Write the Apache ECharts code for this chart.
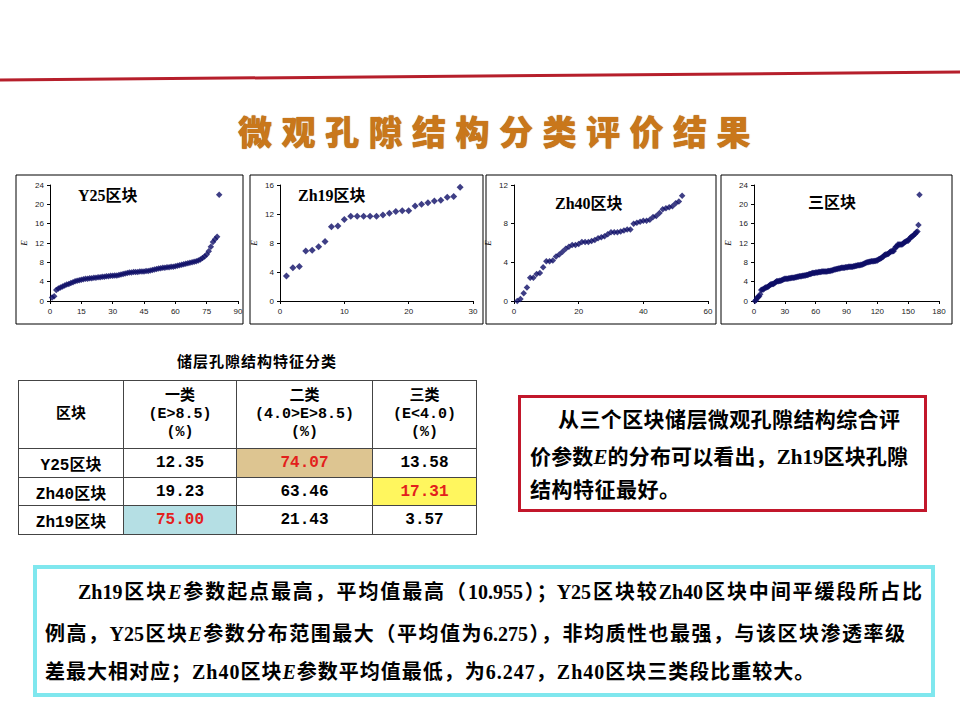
<!DOCTYPE html>
<html lang="zh-CN">
<head>
<meta charset="utf-8">
<script src="https://cdn.jsdelivr.net/npm/echarts@6/dist/echarts.min.js"></script>
<style>
body{margin:0;background:#fff;}
#page{position:relative;width:960px;height:720px;overflow:hidden;background:#fff;}
#chart{position:absolute;left:0;top:0;width:960px;height:720px;}
.txt{position:absolute;font-family:"Liberation Serif","Noto Sans CJK SC",serif;font-weight:bold;color:#000;white-space:nowrap;}
.jus{text-align:justify;text-align-last:justify;}
.txt i{font-style:italic;font-family:"Liberation Serif",serif;}
#title{position:absolute;left:238px;top:112px;font-family:"Noto Sans CJK SC";font-weight:900;font-size:34px;line-height:38px;letter-spacing:9.5px;color:#c9771b;text-shadow:0 0 1px #9a560c;white-space:nowrap;}
#tbTitle{position:absolute;left:177px;top:352px;font-family:"Noto Sans CJK SC";font-weight:bold;font-size:15px;line-height:18px;letter-spacing:1px;white-space:nowrap;}
#tb{position:absolute;left:18px;top:380px;border-collapse:collapse;font-family:"Liberation Mono","Noto Sans CJK SC",monospace;font-weight:bold;color:#000;}
#tb td{border:1px solid #444;text-align:center;padding:0;font-size:16px;}
#tb tr.hd td{font-size:15px;line-height:18px;}
#tb .red{color:#e3201c;}
#redBox{position:absolute;left:518px;top:395px;width:409px;height:117px;box-sizing:border-box;border:3px solid #c2172b;}
#cyanBox{position:absolute;left:33px;top:565px;width:902px;height:132px;box-sizing:border-box;border:4px solid #7fe7ee;}
</style>
</head>
<body>
<div id="page">
  <div id="chart"></div>
  <div id="title">微观孔隙结构分类评价结果</div>
  <div id="tbTitle">储层孔隙结构特征分类</div>
  <table id="tb"></table>
  <div id="redBox"></div>
  <div class="txt jus" style="left:558px;top:409px;width:342px;font-size:21px;line-height:22px;">从三个区块储层微观孔隙结构综合评</div>
  <div class="txt jus" style="left:530px;top:446px;width:378px;font-size:21px;line-height:22px;">价参数<i>E</i>的分布可以看出，Zh19区块孔隙</div>
  <div class="txt" style="left:530px;top:479px;font-size:21px;line-height:22px;letter-spacing:0.5px;">结构特征最好。</div>
  <div id="cyanBox"></div>
  <div class="txt jus" style="left:78px;top:581px;width:844px;font-size:20px;line-height:22px;">Zh19区块<i>E</i>参数起点最高，平均值最高（10.955）；Y25区块较Zh40区块中间平缓段所占比</div>
  <div class="txt jus" style="left:45px;top:623px;width:860px;font-size:20px;line-height:22px;">例高，Y25区块<i>E</i>参数分布范围最大（平均值为6.275），非均质性也最强，与该区块渗透率级</div>
  <div class="txt" style="left:45px;top:661px;font-size:20px;line-height:22px;letter-spacing:1px;">差最大相对应；Zh40区块<i>E</i>参数平均值最低，为6.247，Zh40区块三类段比重较大。</div>
</div>
<script>
// E 参数 (按大小排序, 横轴为样品序号)
let y25E = [
  0.7, 1.0, 2.3, 2.6, 2.8, 3.0, 3.2, 3.4, 3.5, 3.7, 3.9,
  4.1, 4.2, 4.3, 4.4, 4.5, 4.6, 4.6, 4.7, 4.7, 4.8,
  4.8, 4.9, 4.9, 5.0, 5.0, 5.1, 5.1, 5.2, 5.2, 5.3,
  5.3, 5.4, 5.5, 5.6, 5.7, 5.8, 5.9, 5.9, 6.0, 6.0,
  6.0, 6.1, 6.1, 6.1, 6.2, 6.2, 6.3, 6.4, 6.5, 6.6,
  6.7, 6.8, 6.9, 6.9, 7.0, 7.0, 7.1, 7.1, 7.2, 7.3,
  7.4, 7.5, 7.6, 7.7, 7.8, 7.9, 8.0, 8.1, 8.2, 8.4,
  8.6, 8.9, 9.2, 9.6, 10.3, 11.2, 12.2, 12.8, 13.3, 22.0
];
let zh19E = [
  3.45, 4.6, 4.75, 6.9, 7.0, 7.5, 8.2, 10.25, 10.35, 11.25,
  11.7, 11.7, 11.7, 11.7, 11.7, 11.85, 12.1, 12.35, 12.45, 12.45,
  13.1, 13.35, 13.55, 13.8, 13.9, 14.3, 14.4, 15.7
];
let zh40E = [
  0.0, 0.2, 0.8, 1.4, 2.4, 2.4, 2.8, 2.9, 3.5,
  4.1, 4.1, 4.2, 4.6, 4.8, 5.1, 5.4, 5.6, 5.8, 5.8,
  5.9, 6.1, 6.1, 6.1, 6.2, 6.3, 6.5, 6.6, 6.7, 6.9,
  7.1, 7.1, 7.1, 7.2, 7.3, 7.4, 7.4, 8.0, 8.1, 8.2,
  8.3, 8.3, 8.4,
  8.7, 8.8, 9.1, 9.5, 9.6, 9.7, 9.8, 10.1, 10.3, 10.9
];
// 三区块 = 三个区块样品合并后排序
let allE = y25E.concat(zh19E, zh40E).sort((a,b)=>a-b);

let panelNames = ['Y25区块','Zh19区块','Zh40区块','三区块'];
let panelData = [y25E, zh19E, zh40E, allE];
let xMaxList = [90, 30, 60, 180];
let xStepList = [15, 10, 20, 30];
let yMaxList = [24, 16, 12, 24];

// 储层孔隙结构特征分类表
let tbBlocks = ['Y25区块','Zh40区块','Zh19区块'];
let tbClass1 = ['12.35','19.23','75.00'];
let tbClass2 = ['74.07','63.46','21.43'];
let tbClass3 = ['13.58','17.31','3.57'];
let tbHeads = ['区块','一类<br>(E&gt;8.5)<br>(%)','二类<br>(4.0&gt;E&gt;8.5)<br>(%)','三类<br>(E&lt;4.0)<br>(%)'];

let page = {
    initTable:()=>{
        let colW = [105, 113, 136, 104];
        let rowH = [68, 29, 28, 29];
        // 高亮单元格 [行,列] -> 底色
        let marks = {'0-2':'#ddc591','1-3':'#fff65e','2-1':'#b5dfe4'};
        let totalText = '<tr class="hd" style="height:'+rowH[0]+'px">';
        tbHeads.forEach((e,i)=>{
            totalText += `<td style="width:${colW[i]-1}px">${e}</td>`;
        })
        totalText += '</tr>';
        tbBlocks.forEach((name,r)=>{
            let cells = [name, tbClass1[r], tbClass2[r], tbClass3[r]];
            totalText += `<tr style="height:${rowH[r+1]}px">`;
            cells.forEach((v,c)=>{
                let bg = marks[r+'-'+c];
                let style = bg ? ` class="red" style="background:${bg}"` : '';
                totalText += `<td${style}>${v}</td>`;
            })
            totalText += '</tr>';
        })
        document.getElementById('tb').innerHTML = totalText;
    },//initTable-----end
    initChart:()=>{
        let myChart = echarts.init(document.getElementById('chart'), null, {renderer:'svg'});
        let gridLeft = [50, 280, 514, 754];
        let gridW = [188, 193, 194, 185];
        let frames = [[16,175,227,149],[250,175,233,149],[486,175,230,149],[721,175,231,149]];
        let titlePos = [[78,195],[298,195],[555,203],[808,202]];
        let symSize = [6.5, 7, 6.5, 6.5];
        let grid = [], xAxis = [], yAxis = [], series = [];
        let graphic = [{
            type:'line', shape:{x1:0,y1:80,x2:960,y2:72},
            style:{stroke:'#b61f2b', lineWidth:3}
        }];
        panelNames.forEach((name,i)=>{
            grid.push({left:gridLeft[i], top:185, width:gridW[i], height:116});
            xAxis.push({
                type:'value', gridIndex:i, min:0, max:xMaxList[i], interval:xStepList[i],
                splitLine:{show:false},
                axisLine:{lineStyle:{color:'#000', width:1}},
                axisTick:{length:3, lineStyle:{color:'#000'}},
                axisLabel:{fontSize:8, color:'#222', margin:6, fontFamily:'Liberation Sans'}
            });
            yAxis.push({
                type:'value', gridIndex:i, min:0, max:yMaxList[i], interval:4,
                name:'E', nameLocation:'middle', nameGap:22, nameRotate:90,
                nameTextStyle:{fontSize:9, fontStyle:'italic', fontFamily:'Liberation Serif', color:'#000'},
                splitLine:{show:false},
                axisLine:{show:true, lineStyle:{color:'#000', width:1}},
                axisTick:{show:true, length:3, lineStyle:{color:'#000'}},
                axisLabel:{fontSize:8, color:'#222', margin:6, fontFamily:'Liberation Sans'}
            });
            series.push({
                type:'scatter', xAxisIndex:i, yAxisIndex:i, symbol:'diamond', symbolSize:symSize[i],
                itemStyle:{color:'#0e0e66'},
                data: panelData[i].map((v,k)=>[k+1, v])
            });
            let f = frames[i];
            graphic.push({
                type:'rect', shape:{x:f[0], y:f[1], width:f[2], height:f[3]},
                style:{fill:'none', stroke:'#000', lineWidth:1}
            });
            graphic.push({
                type:'text', x:titlePos[i][0], y:titlePos[i][1],
                style:{text:name, fill:'#000', textAlign:'left', textVerticalAlign:'middle',
                    font:'bold 16px "Liberation Serif","Noto Sans CJK SC",serif'}
            });
        })
        let option = {
            animation:false,
            grid, xAxis, yAxis, series, graphic
        };
        myChart.setOption(option);
    }//initChart-----end
}

page.initTable();
page.initChart();
</script>
</body>
</html>
